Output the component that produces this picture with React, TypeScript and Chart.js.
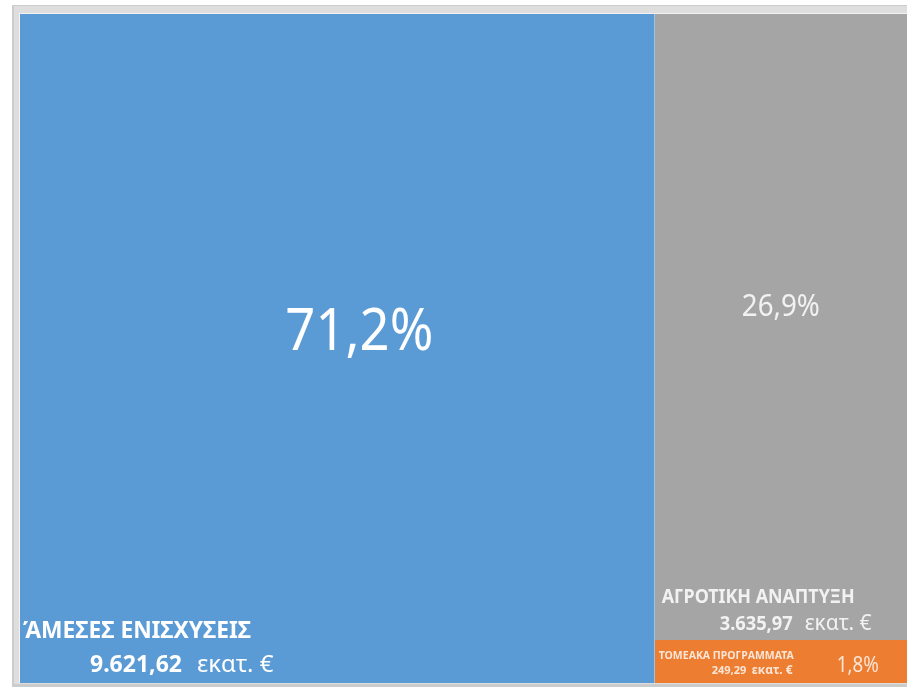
import React, { useEffect, useRef } from "react";
import { Chart, registerables } from "chart.js";

Chart.register(...registerables);

// ---- data ----
const categories = ["ΆΜΕΣΕΣ ΕΝΙΣΧΥΣΕΙΣ", "ΑΓΡΟΤΙΚΗ ΑΝΑΠΤΥΞΗ", "ΤΟΜΕΑΚΑ ΠΡΟΓΡΑΜΜΑΤΑ"];
const amounts = [9621.62, 3635.97, 249.29];
const valueLabels = ["9.621,62", "3.635,97", "249,29"];
const percentLabels = ["71,2%", "26,9%", "1,8%"];
const unitLabel = "εκατ. €";
const colors = ["#5b9bd5", "#a5a5a5", "#ed7d31"];

const FONT = '"Noto Sans", "DejaVu Sans", sans-serif';

export default function App() {
  const ref = useRef<HTMLCanvasElement | null>(null);

  useEffect(() => {
    const canvas = ref.current;
    if (!canvas) return;

    const total = amounts.reduce((a, b) => a + b, 0);
    const leftShare = (amounts[0] / total) * 100;
    const rightTotal = amounts[1] + amounts[2];
    const bottomShare = (amounts[2] / rightTotal) * 100;

    const frame = {
      id: "frame",
      beforeDraw(chart: any) {
        const ctx = chart.ctx;
        const a = chart.chartArea;
        ctx.save();
        ctx.fillStyle = "#ffffff";
        ctx.fillRect(0, 0, chart.width, chart.height);
        ctx.fillStyle = "#cccccc";
        ctx.fillRect(a.left - 8, a.top - 9, chart.width - (a.left - 8), chart.height - (a.top - 9));
        ctx.fillStyle = "#dedede";
        ctx.fillRect(a.left - 6, a.top - 8, chart.width - (a.left - 6), a.bottom - a.top + 9);
        ctx.fillStyle = "#f2f2f2";
        ctx.fillRect(a.left - 1, a.top - 1, a.right - a.left + 1, a.bottom - a.top + 1);
        ctx.restore();
      },
    };

    const labels = {
      id: "labels",
      afterDatasetsDraw(chart: any) {
        const ctx = chart.ctx;
        const xs = chart.scales.x;
        const ys = chart.scales.y;
        const L = xs.getPixelForValue(0);
        const M = xs.getPixelForValue(leftShare);
        const R = xs.getPixelForValue(100);
        const T = ys.getPixelForValue(100);
        const B = ys.getPixelForValue(0);
        const S = ys.getPixelForValue(bottomShare);

        const txt = (
          s: string,
          x: number,
          y: number,
          size: number,
          bold: boolean,
          color: string,
          maxW: number,
          align: CanvasTextAlign = "left"
        ) => {
          ctx.font = `${bold ? "bold " : ""}${size}px ${FONT}`;
          ctx.fillStyle = color;
          ctx.textAlign = align;
          ctx.textBaseline = "alphabetic";
          ctx.fillText(s, x, y, maxW);
        };

        ctx.save();
        // Big block (left)
        txt(percentLabels[0], (L + M) / 2 + 22, (T + B) / 2 + 1, 59, false, "#ffffff", 148, "center");
        txt(categories[0], L + 3, B - 45, 23, true, "#ffffff", 228);
        txt(valueLabels[0], L + 70, B - 11, 23, true, "#ffffff", 93);
        txt(unitLabel, L + 177, B - 11, 24, false, "#ffffff", 78);

        // Upper right block
        const gy = (T + S) / 2;
        txt(percentLabels[1], (M + R) / 2 - 2, gy - 11, 30, false, "#f2f2f2", 78, "center");
        txt(categories[1], M + 7, S - 37, 19, true, "#f2f2f2", 193);
        txt(valueLabels[1], M + 65, S - 10, 20, true, "#f2f2f2", 73);
        txt(unitLabel, M + 150, S - 10, 21, false, "#f2f2f2", 70);

        // Lower right block
        txt(categories[2], M + 4, S + 19, 10.5, true, "#fbe5d6", 138);
        txt(valueLabels[2], M + 57, B - 9, 11, true, "#fbe5d6", 35);
        txt(unitLabel, M + 97, B - 9, 12, true, "#fbe5d6", 45);
        txt(percentLabels[2], (M + R) / 2 + 75, B - 11, 21, false, "#fbe5d6", 42, "center");
        ctx.restore();
      },
    };

    const rect = (pts: { x: number; y: number }[], color: string, fill: any) => ({
      data: pts,
      backgroundColor: color,
      borderColor: "rgba(0,0,0,0)",
      borderWidth: 0,
      pointRadius: 0,
      fill,
      tension: 0,
    });

    const chart = new Chart(canvas, {
      type: "line",
      data: {
        datasets: [
          rect([{ x: 0, y: 100 }, { x: leftShare, y: 100 }], colors[0], "origin"),
          rect([{ x: leftShare, y: 100 }, { x: 100, y: 100 }], colors[1], { value: bottomShare }),
          rect([{ x: leftShare, y: bottomShare }, { x: 100, y: bottomShare }], colors[2], "origin"),
          {
            data: [{ x: leftShare, y: 0 }, { x: leftShare, y: 100 }],
            borderColor: "rgba(235,242,250,0.85)",
            borderWidth: 2,
            pointRadius: 0,
            fill: false,
          },
          {
            data: [{ x: leftShare, y: bottomShare }, { x: 100, y: bottomShare }],
            borderColor: "rgba(245,245,245,0.9)",
            borderWidth: 1.5,
            pointRadius: 0,
            fill: false,
          },
        ],
      },
      options: {
        animation: false,
        responsive: false,
        layout: { padding: { left: 20, top: 14, right: 0, bottom: 4 } },
        scales: {
          x: { type: "linear", min: 0, max: 100, display: false },
          y: { type: "linear", min: 0, max: 100, display: false },
        },
        plugins: {
          legend: { display: false },
          tooltip: { enabled: false },
        },
        elements: { line: { tension: 0 } },
      },
      plugins: [frame, labels],
    });

    return () => chart.destroy();
  }, []);

  return (
    <div style={{ position: "absolute", left: 0, top: 0, width: 907, height: 687, overflow: "hidden" }}>
      <canvas ref={ref} width={911} height={687} style={{ display: "block" }} />
    </div>
  );
}
